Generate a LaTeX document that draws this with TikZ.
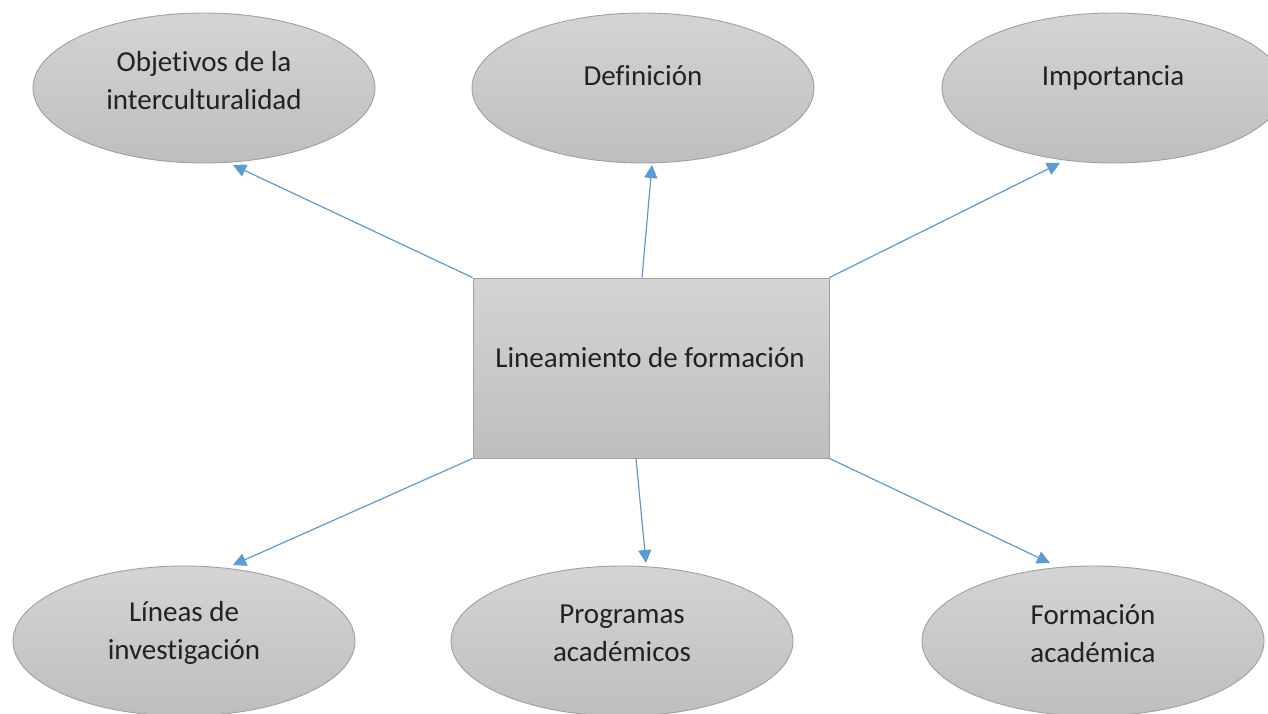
\documentclass[tikz,border=0pt]{standalone}
\usepackage{fontspec}
\setmainfont[Ligatures={NoCommon}]{Carlito}
\usetikzlibrary{shapes.geometric,arrows.meta}
\definecolor{edgeblue}{HTML}{5B9BD5}
\definecolor{gtop}{HTML}{D4D4D4}
\definecolor{gbot}{HTML}{BEBEBE}
\definecolor{gborder}{HTML}{A0A0A0}
\definecolor{txt}{HTML}{222222}
\tikzset{
  bubble/.style={ellipse, draw=gborder, line width=0.9pt, top color=gtop, bottom color=gbot,
    minimum width=342pt, minimum height=150pt, inner sep=0pt},
  centerbox/.style={rectangle, draw=gborder, line width=0.9pt, top color=gtop, bottom color=gbot,
    minimum width=356pt, minimum height=180pt, inner sep=0pt},
  label/.style={text=txt, font=\fontsize{29}{38}\selectfont, align=center, inner sep=0pt},
  link/.style={draw=edgeblue, line width=1.2pt, -{Triangle[length=13pt,width=13pt]}}
}
\begin{document}
\begin{tikzpicture}[x=1pt,y=-1pt]
\clip (0,0) rectangle (1268,713);
\fill[white] (0,0) rectangle (1268,713);
\node[bubble] (obj) at (204,88) {};
\node[label] (objt) at (204,81) {Objetivos de la\\interculturalidad};
\node[bubble] (def) at (643,88) {};
\node[label] (deft) at (643,76) {Definición};
\node[bubble] (imp) at (1113,88) {};
\node[label] (impt) at (1113,78) {Importancia};
\node[bubble] (lin) at (184,641) {};
\node[label] (lint) at (184,633) {Líneas de\\investigación};
\node[bubble] (prog) at (622,641) {};
\node[label] (progt) at (622,633) {Programas\\académicos};
\node[bubble] (form) at (1093,641) {};
\node[label] (formt) at (1093,634) {Formación\\académica};
\node[centerbox] (lf) at (651,368) {};
\node[label] (lft) at (650,358) {Lineamiento de formación};
\coordinate (a1) at (233,165);
\coordinate (a2) at (652,165);
\coordinate (a3) at (1060,163);
\coordinate (a4) at (233,565);
\coordinate (a5) at (646,563);
\coordinate (a6) at (1050,563);
\draw[link] (lf.north west) -- (a1);
\draw[link] ([xshift=-9pt]lf.north) -- (a2);
\draw[link] (lf.north east) -- (a3);
\draw[link] (lf.south west) -- (a4);
\draw[link] ([xshift=-15pt]lf.south) -- (a5);
\draw[link] (lf.south east) -- (a6);
\end{tikzpicture}
\end{document}
